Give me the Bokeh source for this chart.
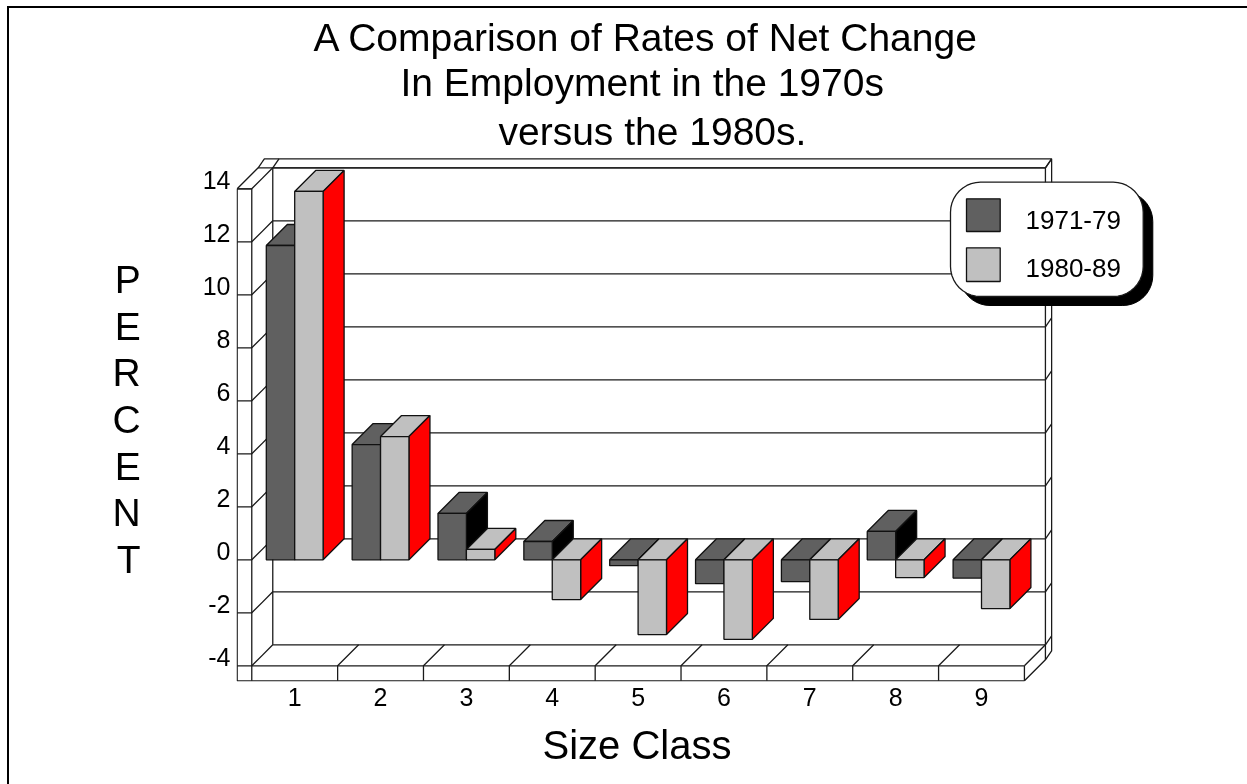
import math
from bokeh.plotting import figure
from bokeh.models import Range1d, LinearAxis, FixedTicker, Title
from bokeh.core.properties import value
from bokeh.embed import file_html
from bokeh.resources import INLINE

# ---- data ----
TITLE_LINES = ["A Comparison of Rates of Net Change", "In Employment in the 1970s", "versus the 1980s."]
CATEGORIES = [1, 2, 3, 4, 5, 6, 7, 8, 9]
SERIES_NAMES = ["1971-79", "1980-89"]
RATES_1971_79 = [11.86, 4.35, 1.75, 0.69, -0.22, -0.9, -0.82, 1.07, -0.69]
RATES_1980_89 = [13.9, 4.65, 0.39, -1.5, -2.82, -3.0, -2.25, -0.67, -1.84]
Y_TICKS = [-4, -2, 0, 2, 4, 6, 8, 10, 12, 14]
Y_LABEL = "P\nE\nR\nC\nE\nN\nT"
X_LABEL = "Size Class"

FONT = "Liberation Sans"
DARK, LIGHT, BLACK, RED = "#606060", "#c0c0c0", "#000000", "#ff0000"

# page geometry: canvas origin on page, scale of the axes
CX0, CY0 = 9, 8
PX_CAT, PX_UNIT = 85.85, 26.5
X1_PX, Y0_PX = 294.2, 559.3
xd = lambda px: 1 + (px - X1_PX) / PX_CAT
yd = lambda py: (Y0_PX - py) / PX_UNIT
FL, FR, FT, FB = 236, 1154, 157, 681
PAGE_W, PAGE_H = 1247, 784

p = figure(width=PAGE_W - CX0, height=PAGE_H - CY0, output_backend="svg", toolbar_location=None,
           frame_width=FR - FL, frame_height=FB - FT,
           min_border_left=FL - CX0, min_border_top=FT - CY0,
           min_border_right=PAGE_W - FR, min_border_bottom=PAGE_H - FB,
           x_range=Range1d(xd(FL), xd(FR)), y_range=Range1d(yd(FB), yd(FT)),
           outline_line_color=None, background_fill_color="white", border_fill_color="white",
           x_axis_location=None, y_axis_location=None)
p.xgrid.visible = False
p.ygrid.visible = False
p.styles = {"position": "fixed", "left": "7px", "top": "6px",
            "border-top": "2px solid black", "border-left": "2px solid black"}

# axes
LABEL_SHIFT = 9 / PX_UNIT
p.extra_y_ranges = {"labels": Range1d(yd(FB) - LABEL_SHIFT, yd(FT) - LABEL_SHIFT)}
yax = LinearAxis(y_range_name="labels", ticker=FixedTicker(ticks=Y_TICKS),
                 major_label_overrides={t: str(t) for t in Y_TICKS},
                 axis_label=Y_LABEL, axis_label_orientation="horizontal")
xax = LinearAxis(ticker=FixedTicker(ticks=CATEGORIES),
                 major_label_overrides={c: str(c) for c in CATEGORIES})
for ax in (yax, xax):
    ax.axis_line_color = None
    ax.major_tick_line_color = None
    ax.minor_tick_line_color = None
    ax.major_label_text_font = FONT
    ax.major_label_text_font_size = "25px"
    ax.major_label_text_color = "black"
yax.axis_label_text_font = FONT
yax.axis_label_text_font_size = "39px"
yax.axis_label_text_font_style = "normal"
yax.axis_label_text_color = "black"
yax.axis_label_text_line_height = 1.085
yax.major_label_standoff = 0
xax.major_label_standoff = 0
yax.axis_label_standoff = 59
p.add_layout(yax, "left")
p.add_layout(xax, "below")

# x axis title, centred under the floor of the box rather than under the frame
p.add_layout(Title(text=X_LABEL, align="left", offset=542 - FL, text_font=FONT, text_font_size="40px",
                   text_font_style="normal", text_color="black", standoff=24), "below")

# titles
TITLE_X_PX = [313, 400, 498]
TITLE_STANDOFF = [1, -2, 10]
for line, px, so in reversed(list(zip(TITLE_LINES, TITLE_X_PX, TITLE_STANDOFF))):
    p.add_layout(Title(text=line, align="left", offset=px - FL, text_font=FONT, text_font_size="39px",
                       text_font_style="normal", text_color="black", standoff=so), "above")

# 3-D box
DX, DY = 21 / PX_CAT, 21 / PX_UNIT
WX, WY = 6.2 / PX_CAT, 9 / PX_UNIT
PW = 14.6 / PX_CAT
PB = 15 / PX_UNIT
LEFT, RIGHT = CATEGORIES[0] - 0.5, CATEGORIES[-1] + 0.5
VMIN, VMAX = Y_TICKS[0], Y_TICKS[-1]
segs = []
def seg(*pts):
    segs.append(pts)

# left plate
seg((LEFT - PW, VMAX), (LEFT - PW, VMIN - PB), (RIGHT, VMIN - PB))
seg((LEFT, VMAX), (LEFT, VMIN - PB))
seg((LEFT - PW, VMAX), (LEFT, VMAX))
seg((LEFT - PW, VMAX), (LEFT - PW + DX, VMAX + DY), (LEFT - PW + DX + WX, VMAX + DY + WY), (RIGHT + DX + WX, VMAX + DY + WY))
seg((LEFT + DX, VMAX + DY), (LEFT + DX + WX, VMAX + DY + WY))
# back wall
seg((LEFT + DX, VMAX + DY), (LEFT + DX, VMIN + DY))
seg((LEFT - PW + DX, VMAX + DY), (RIGHT + DX, VMAX + DY))
# right side
seg((RIGHT + DX, VMAX + DY), (RIGHT + DX + WX, VMAX + DY + WY), (RIGHT + DX + WX, VMIN + DY + WY - PB),
    (RIGHT + DX, VMIN + DY - PB), (RIGHT, VMIN - PB))
seg((RIGHT + DX, VMAX + DY), (RIGHT + DX, VMIN + DY - PB))
seg((RIGHT, VMIN), (RIGHT + DX, VMIN + DY))
seg((RIGHT, VMIN), (RIGHT, VMIN - PB))
# grid lines on the walls
for v in Y_TICKS:
    seg((LEFT - PW, v), (LEFT, v), (LEFT + DX, v + DY), (RIGHT + DX, v + DY))
    seg((RIGHT + DX, v + DY), (RIGHT + DX + WX, v + DY + WY))
# floor
seg((LEFT, VMIN), (RIGHT, VMIN))
for c in CATEGORIES[:-1]:
    seg((c + 0.5, VMIN - PB), (c + 0.5, VMIN), (c + 0.5 + DX, VMIN + DY))
p.multi_line([[q[0] for q in s] for s in segs], [[q[1] for q in s] for s in segs],
             line_color="#1a1a1a", line_width=1.3)

# bars, painted back to front
BAR_W = 28.4 / PX_CAT
xs, ys, fills = [], [], []
def face(pts, col):
    xs.append([q[0] for q in pts])
    ys.append([q[1] for q in pts])
    fills.append(col)

for i, c in enumerate(CATEGORIES):
    for j, (vals, front, side) in enumerate(((RATES_1971_79, DARK, BLACK), (RATES_1980_89, LIGHT, RED))):
        v = vals[i]
        a = c - BAR_W + j * BAR_W
        b = a + BAR_W
        hi, lo = max(v, 0), min(v, 0)
        face([(a, hi), (b, hi), (b + DX, hi + DY), (a + DX, hi + DY)], front)
        face([(b, hi), (b + DX, hi + DY), (b + DX, lo + DY), (b, lo)], side)
        face([(a, hi), (b, hi), (b, lo), (a, lo)], front)
p.patches(xs, ys, fill_color=fills, line_color="#111111", line_width=1.3)

# legend
def rounded(l, t, r, b, rad, n=10):
    pts = []
    for cx, cy, a0 in ((r - rad, t + rad, -90), (r - rad, b - rad, 0), (l + rad, b - rad, 90), (l + rad, t + rad, 180)):
        for k in range(n + 1):
            a = math.radians(a0 + 90 * k / n)
            pts.append((cx + rad * math.cos(a), cy + rad * math.sin(a)))
    return [xd(q[0]) for q in pts], [yd(q[1]) for q in pts]

sx, sy = rounded(959.5, 191, 1152.3, 305, 30)
p.patch(sx, sy, fill_color="black", line_color="black", line_width=1)
bx, by = rounded(950, 181.7, 1142.7, 296, 30)
p.patch(bx, by, fill_color="white", line_color="#1a1a1a", line_width=1.3)
SW = [(198.3, 231, DARK), (247.3, 281, LIGHT)]
p.quad(left=[xd(966)] * 2, right=[xd(999.7)] * 2, top=[yd(s[0]) for s in SW], bottom=[yd(s[1]) for s in SW],
       fill_color=[s[2] for s in SW], line_color="#111111", line_width=1.3)
p.text(x=[xd(1025)] * 2, y=[yd(219), yd(267)], text=SERIES_NAMES, text_font=value(FONT), text_font_size=value("26px"),
       text_align="left", text_baseline="middle", text_color="black")

open("out.html", "w").write(file_html(p, INLINE))
